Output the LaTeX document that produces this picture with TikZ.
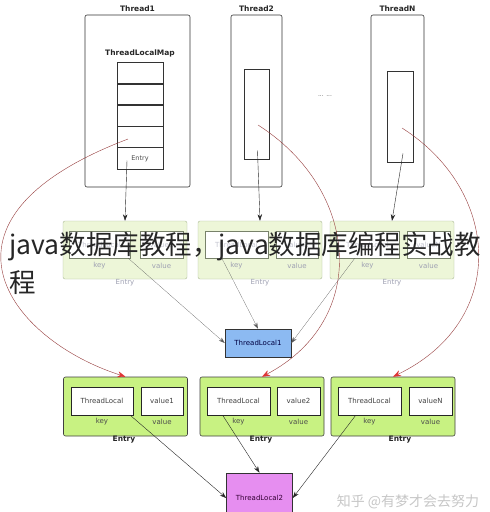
\documentclass[tikz,border=0pt]{standalone}
\usepackage{fontspec}
\setmainfont{DejaVu Sans}
\newfontfamily\cjk{Noto Sans CJK SC}
\usetikzlibrary{arrows.meta, positioning, calc}
\definecolor{mygreen}{RGB}{200, 242, 130}
\definecolor{mypale}{RGB}{237, 246, 216}
\definecolor{paleline}{RGB}{172, 186, 152}
\definecolor{paletext}{RGB}{158, 160, 178}
\definecolor{myblue}{RGB}{140, 186, 242}
\definecolor{mypink}{RGB}{230, 142, 240}
\definecolor{myred}{RGB}{150, 60, 60}
\definecolor{tipred}{RGB}{222, 52, 52}

\begin{document}
\begin{tikzpicture}[x=1pt, y=-1pt,
    thread/.style={rectangle, draw=black!80, semithick, rounded corners=2pt, minimum height=172pt, inner sep=0pt},
    inner/.style={rectangle, draw=black!80, semithick, inner sep=0pt},
    cell/.style={rectangle, draw=black!80, semithick, minimum width=46pt, minimum height=21.5pt, inner sep=0pt, font=\fontsize{6.5}{7}\selectfont, text=black!70},
    title/.style={font=\bfseries\fontsize{7.5}{8}\selectfont, text=black!85, inner sep=1pt},
    oldentry/.style={rectangle, draw=paleline, fill=mypale, rounded corners=2pt, minimum width=124pt, minimum height=58pt},
    oldbox/.style={rectangle, draw=paleline!70!black, fill=white, minimum height=27pt, inner sep=0pt, font=\fontsize{7}{8}\selectfont, text=paletext!60},
    oldtext/.style={font=\fontsize{7}{8}\selectfont, text=paletext},
    newentry/.style={rectangle, draw=black!75, semithick, fill=mygreen, rounded corners=2pt, minimum width=124pt, minimum height=59pt},
    newbox/.style={rectangle, draw=black!85, semithick, fill=white, minimum height=28pt, inner sep=0pt, font=\fontsize{7}{8}\selectfont, text=black!75},
    newtext/.style={font=\fontsize{7}{8}\selectfont, text=black!70},
    local/.style={rectangle, draw=black!80, semithick, minimum width=66pt, inner sep=0pt, font=\fontsize{7}{8}\selectfont},
    arr/.style={-{Stealth[length=6.5pt, width=4.5pt]}, black!85, thin},
    thinarr/.style={-{Stealth[length=6pt, width=4pt]}, black!65, very thin},
    redarr/.style={-{Stealth[length=8pt, width=6pt, color=tipred]}, myred, thin},
    cjktext/.style={font=\cjk\fontsize{26.5}{32}\selectfont, text=black!85, inner sep=0pt}
]
    \useasboundingbox[fill=white] (0,0) rectangle (490,512);

    % Thread1
    \node[thread, minimum width=105pt] (t1) at (137.5,101) {};
    \node[title, above=2pt of t1] (t1name) {Thread1};
    \node[title] (mapname) at (140,53) {ThreadLocalMap};
    \node[cell] (c1) at (140,73.5) {};
    \node[cell] (c2) at (140,94.5) {};
    \node[cell] (c3) at (140,115.5) {};
    \node[cell] (c4) at (140,137) {};
    \node[cell] (c5) at (140,158.5) {Entry};

    % Thread2 ... ThreadN
    \node[thread, minimum width=51pt] (t2) at (256.5,101) {};
    \node[title, above=2pt of t2] (t2name) {Thread2};
    \node[inner, minimum width=25pt, minimum height=90pt] (m2) at (256.5,114) {};
    \node[font=\fontsize{6}{7}\selectfont, text=black!60] (dots) at (325,96) {... ...};
    \node[thread, minimum width=53pt] (tn) at (397.5,101) {};
    \node[title, above=2pt of tn] (tnname) {ThreadN};
    \node[inner, minimum width=26pt, minimum height=91pt] (mn) at (400,116.5) {};

    % Entry (Thread -> ThreadLocal1)
    \node[oldentry] (a1) at (125,250) {};
    \node[oldbox, minimum width=61pt] (ak1) at (99.5,244.5) {ThreadLocal};
    \node[oldbox, minimum width=43pt] (av1) at (161.5,244.5) {value1};
    \node[oldtext] (ak1t) at (99.5,266) {key};
    \node[oldtext] (av1t) at (161.5,266) {value};
    \node[oldtext] (a1t) at (125,283) {Entry};

    \node[oldentry] (a2) at (260,250) {};
    \node[oldbox, minimum width=63pt] (ak2) at (236.5,244.5) {ThreadLocal};
    \node[oldbox, minimum width=42pt] (av2) at (297,244.5) {value2};
    \node[oldtext] (ak2t) at (236.5,266) {key};
    \node[oldtext] (av2t) at (297,266) {value};
    \node[oldtext] (a2t) at (260,283) {Entry};

    \node[oldentry] (a3) at (392,250) {};
    \node[oldbox, minimum width=63pt] (ak3) at (367.5,244.5) {ThreadLocal};
    \node[oldbox, minimum width=43pt] (av3) at (428.5,244.5) {valueN};
    \node[oldtext] (ak3t) at (367.5,266) {key};
    \node[oldtext] (av3t) at (428.5,266) {value};
    \node[oldtext] (a3t) at (392,283) {Entry};

    \node[local, fill=myblue, minimum height=28pt, text=black!75!blue] (tl1) at (258,343) {ThreadLocal1};

    % Entry (Thread -> ThreadLocal2)
    \node[newentry] (b1) at (125.5,406.5) {};
    \node[newbox, minimum width=62pt] (bk1) at (102,401) {ThreadLocal};
    \node[newbox, minimum width=42pt] (bv1) at (162,401) {value1};
    \node[newtext] (bk1t) at (102,422) {key};
    \node[newtext] (bv1t) at (162,422) {value};
    \node[title] (b1t) at (124,440) {Entry};

    \node[newentry] (b2) at (262,406.5) {};
    \node[newbox, minimum width=63pt] (bk2) at (238.5,401) {ThreadLocal};
    \node[newbox, minimum width=43pt] (bv2) at (298.5,401) {value2};
    \node[newtext] (bk2t) at (238.5,422) {key};
    \node[newtext] (bv2t) at (298.5,422) {value};
    \node[title] (b2t) at (261,440) {Entry};

    \node[newentry] (b3) at (393,406.5) {};
    \node[newbox, minimum width=63pt] (bk3) at (369.5,401) {ThreadLocal};
    \node[newbox, minimum width=43pt] (bv3) at (430.5,401) {valueN};
    \node[newtext] (bk3t) at (369.5,422) {key};
    \node[newtext] (bv3t) at (430.5,422) {value};
    \node[title] (b3t) at (400,440) {Entry};

    \node[local, fill=mypink, minimum height=50pt, text=black!60!violet] (tl2) at (259.5,498) {ThreadLocal2};

    % Thread -> Entry
    \draw[arr] ($(c5.center)+(-13,2)$) -- (a1.north);
    \draw[arr] ($(m2.south)+(1,-9)$) -- (a2.north);
    \draw[arr] ($(mn.south)+(3,-9)$) -- (a3.north);

    % key -> ThreadLocal1
    \draw[thinarr] ($(ak1.south east)+(-2,0)$) -- (tl1.west);
    \draw[thinarr] ($(ak2.south west)+(17,0)$) -- (tl1.north);
    \draw[thinarr] ($(ak3.south west)+(19,0)$) -- (tl1.east);

    % key -> ThreadLocal2
    \draw[arr] ($(bk1.south east)+(-3,0)$) -- (tl2.west);
    \draw[arr] ($(bk2.south west)+(16,0)$) -- (tl2.north);
    \draw[arr] ($(bk3.south west)+(18,0)$) -- (tl2.east);

    % Thread -> new Entry
    \draw[redarr] ($(c4.center)+(-12,2)$) .. controls (-85,220) and (10,340) .. (b1.north);
    \draw[redarr] ($(m2.center)+(1.5,11)$) .. controls (360,190) and (370,320) .. (b2.north);
    \draw[redarr] ($(mn.center)+(2,11.5)$) .. controls (500,190) and (510,320) .. (b3.north);

    % overlay
    \node[cjktext, anchor=base west] (ov1) at (9,254) {java数据库教程，java数据库编程实战教};
    \node[cjktext, anchor=base west] (ov2) at (9,292) {程};
    \node[font=\cjk\fontsize{14}{16}\selectfont, text=black!22] (mark) at (408,502) {知乎 @有梦才会去努力};
\end{tikzpicture}
\end{document}
